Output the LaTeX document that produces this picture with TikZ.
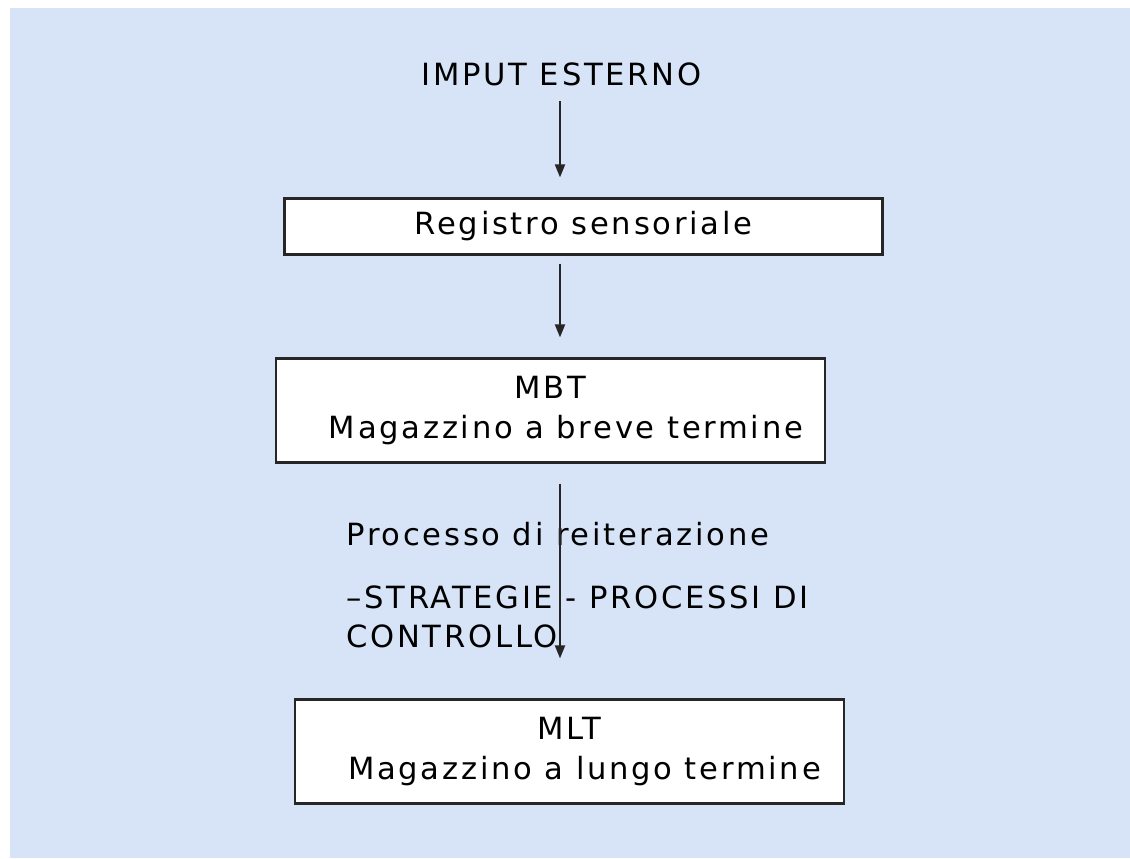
\documentclass[tikz,border=0pt]{standalone}
\usepackage{fontspec}
\setmainfont{DejaVu Sans}[LetterSpace=9]
\usetikzlibrary{positioning,arrows.meta}
\definecolor{sheet}{RGB}{215,227,247}
\begin{document}
\begin{tikzpicture}[x=0.5pt,y=-0.5pt]
  \tikzstyle{storebox} = [draw=black!85,line width=1.1pt,fill=white,inner sep=0pt,align=center,font=\fontsize{15.3}{20}\selectfont]
  \tikzstyle{txt} = [inner sep=0pt,font=\fontsize{15.3}{20}\selectfont]
  \tikzstyle{flow} = [draw=black!85,line width=1pt,-{Triangle[width=5pt,length=6.5pt]}]
  \useasboundingbox (0,0) rectangle (1130,858);
  \fill[sheet] (10,8) rectangle (1130,858);
  \coordinate (axis) at (560,0);
  % stores
  \node[txt,anchor=base] (imput) at (561.5,85) {IMPUT ESTERNO};
  \node[storebox,minimum width=299pt,minimum height=28pt] (registro) at (583.5,226.5) {Registro sensoriale};
  \node[storebox,minimum width=274.5pt,minimum height=52pt] (mbt) at (550.5,410.5) {MBT\\\hspace*{15.5pt}Magazzino a breve termine};
  \node[storebox,minimum width=274.5pt,minimum height=52pt] (mlt) at (569.5,751.5) {MLT\\\hspace*{15pt}Magazzino a lungo termine};
  % process text
  \node[txt,anchor=base west] (proc) at (346,545) {Processo di reiterazione};
  \node[txt,anchor=base west] (strat) at (346,608) {–STRATEGIE - PROCESSI DI};
  \node[txt,anchor=base west] (ctrl) at (346,647) {CONTROLLO};
  % arrows
  \draw[flow,shorten <=8pt,shorten >=10pt] (imput.base -| axis) -- (registro.north -| axis);
  \draw[flow,shorten <=4pt,shorten >=10pt] (registro.south -| axis) -- (mbt.north -| axis);
  \draw[flow,shorten <=10pt,shorten >=20pt] (mbt.south -| axis) -- (mlt.north -| axis);
\end{tikzpicture}
\end{document}
